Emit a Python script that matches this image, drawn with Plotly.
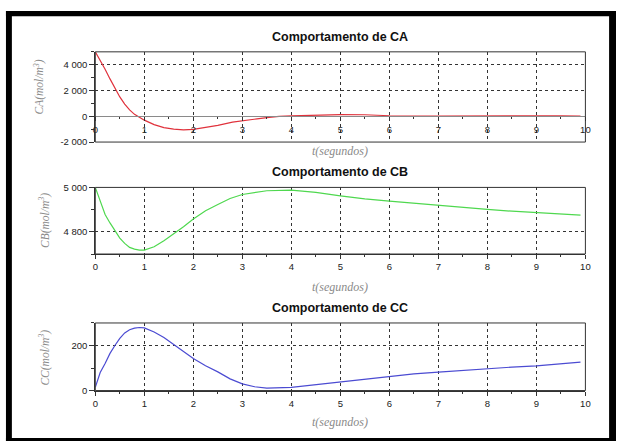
import plotly.graph_objects as go

W, H = 621, 446

# --- data ------------------------------------------------------------------
t_ca = [0, 0.1, 0.2, 0.3, 0.4, 0.5, 0.6, 0.7, 0.8, 0.9, 1.0, 1.2, 1.4, 1.6, 1.8,
        2.0, 2.2, 2.5, 2.8, 3.0, 3.3, 3.5, 3.75, 4.0, 4.4, 4.6, 5.0, 5.5, 5.7,
        6.0, 7.0, 8.0, 8.3, 9.0, 9.5, 9.9]
ca = [5000, 4350, 3650, 2900, 2150, 1500, 950, 500, 150, -100, -300, -650, -880,
      -1000, -1050, -1020, -900, -700, -450, -330, -200, -110, 0, 30, 80, 120,
      130, 120, 70, 40, 20, 0, 20, 30, 30, 20]

t_cb = [0, 0.1, 0.2, 0.3, 0.4, 0.5, 0.6, 0.7, 0.8, 0.9, 1.0, 1.2, 1.4, 1.6, 1.8,
        2.0, 2.25, 2.5, 2.75, 3.0, 3.5, 4.0, 4.5, 5.0, 5.5, 6.0, 6.5, 7.0, 7.5,
        8.0, 8.5, 9.0, 9.5, 9.9]
cb = [5000, 4935, 4878, 4840, 4805, 4772, 4748, 4730, 4722, 4718, 4718, 4733,
      4760, 4790, 4823, 4858, 4895, 4923, 4950, 4968, 4985, 4988, 4978, 4962,
      4948, 4938, 4928, 4920, 4910, 4901, 4893, 4886, 4879, 4875]

t_cc = [0, 0.1, 0.2, 0.3, 0.4, 0.5, 0.6, 0.7, 0.8, 0.9, 1.0, 1.2, 1.4, 1.6, 1.8,
        2.0, 2.25, 2.5, 2.75, 3.0, 3.25, 3.5, 4.0, 4.5, 5.0, 5.5, 6.0, 6.5, 7.0,
        7.5, 8.0, 8.5, 9.0, 9.5, 9.9]
cc = [15, 80, 120, 165, 200, 232, 256, 270, 277, 280, 278, 260, 236, 205, 172,
      142, 110, 83, 52, 30, 17, 11, 14, 26, 40, 51, 63, 74, 82, 90, 97, 104,
      110, 118, 126]

x_ticks = list(range(0, 11))
ca_ticks = [-2000, 0, 2000, 4000]
ca_labels = ["-2 000", "0", "2 000", "4 000"]
cb_ticks = [4800, 5000]
cb_labels = ["4 800", "5 000"]
cc_ticks = [0, 200]
cc_labels = ["0", "200"]

RED = "#e0323c"
GREEN = "#4fd84f"
BLUE = "#4b4bd2"
GRID = "#333333"
DASH = "3px,3px"
TICK_FONT = dict(family="Liberation Sans, Arial", size=9.5, color="#222222")


def px(x):
    return x / W


def py(y):
    return 1 - y / H


X_DOM = [px(93.5), px(590)]
DOMS = {
    "ca": [py(139.5), py(47)],
    "cb": [py(254.3), py(186)],
    "cc": [py(394.3), py(325)],
}
RANGES = {"ca": [-2000, 5000], "cb": [4700, 5000], "cc": [0, 300]}

fig = go.Figure()
fig.add_trace(go.Scatter(x=t_ca, y=ca, mode="lines", line=dict(color=RED, width=1.2),
                         xaxis="x", yaxis="y", showlegend=False))
fig.add_trace(go.Scatter(x=t_cb, y=cb, mode="lines", line=dict(color=GREEN, width=1.2),
                         xaxis="x2", yaxis="y2", showlegend=False))
fig.add_trace(go.Scatter(x=t_cc, y=cc, mode="lines", line=dict(color=BLUE, width=1.2),
                         xaxis="x3", yaxis="y3", showlegend=False))


def xaxis_common():
    return dict(
        domain=X_DOM, range=[0, 10], tickvals=x_ticks, tickfont=TICK_FONT,
        showgrid=True, gridcolor=GRID, griddash=DASH, gridwidth=1,
        showline=True, linecolor="#333333", linewidth=1,
        ticks="outside", ticklen=4, tickcolor="#333333",
        minor=dict(dtick=0.5, tick0=0, ticks="outside", ticklen=2, tickcolor="#333333", showgrid=False),
        zeroline=False, fixedrange=True,
    )


def yaxis_common(key, vals, labels):
    return dict(
        domain=DOMS[key], range=RANGES[key], tickvals=vals, ticktext=labels,
        tickfont=TICK_FONT, showgrid=True, gridcolor=GRID, griddash=DASH,
        showline=True, linecolor="#333333", linewidth=1,
        ticks="outside", ticklen=5, tickcolor="#333333",
        minor=dict(dtick=100 if key != "ca" else 1000, ticks="outside", ticklen=3,
                   tickcolor="#333333", showgrid=False),
        zeroline=False, fixedrange=True,
    )


# top panel: x axis sits on y = 0 (Scilab style)
ca_lo, ca_hi = RANGES["ca"]
zero_pos = DOMS["ca"][0] + (0 - ca_lo) / (ca_hi - ca_lo) * (DOMS["ca"][1] - DOMS["ca"][0])
xa1 = xaxis_common()
xa1.update(anchor="free", position=zero_pos, linecolor="#8a8a8a")

xa2 = xaxis_common()
xa2.update(anchor="y2")
xa3 = xaxis_common()
xa3.update(anchor="y3")

ya1 = yaxis_common("ca", ca_ticks, ca_labels)
ya1.update(anchor="x")
ya2 = yaxis_common("cb", cb_ticks, cb_labels)
ya2.update(anchor="x2")
ya3 = yaxis_common("cc", cc_ticks, cc_labels)
ya3.update(anchor="x3")

# box around each panel
shapes = []
for xr, yr in [("x", "y"), ("x2", "y2"), ("x3", "y3")]:
    shapes.append(dict(type="rect", xref=f"{xr} domain", yref=f"{yr} domain",
                       x0=0, x1=1, y0=0, y1=1, line=dict(color="#333333", width=1)))

# thick black frame of the picture
for x0, x1, y0, y1 in [(3, 9, 5, 446), (3, 621, 5, 10.5), (614, 621, 5, 446), (3, 621, 443, 446)]:
    shapes.append(dict(type="rect", xref="paper", yref="paper",
                       x0=px(x0), x1=px(x1), y0=py(y1), y1=py(y0),
                       fillcolor="black", line=dict(width=0), layer="above"))

TITLE_FONT = dict(family="Liberation Sans, Arial", size=12.5, color="#111111")
XT_FONT = dict(family="Liberation Serif, DejaVu Serif", size=12, color="#8a8a8a")
YT_FONT = dict(family="Liberation Serif, DejaVu Serif", size=11.5, color="#8a8a8a")

annotations = []
for txt, y in [("Comportamento de CA", 31.5), ("Comportamento de CB", 170),
               ("Comportamento de CC", 309.5)]:
    annotations.append(dict(text=f"<b>{txt}</b>", x=px(341), y=py(y), xref="paper", yref="paper",
                            showarrow=False, font=TITLE_FONT, xanchor="center", yanchor="middle"))
for y in [148.3, 288.5, 426.7]:
    annotations.append(dict(text="<i>t(segundos)</i>", x=px(341), y=py(y), xref="paper", yref="paper",
                            showarrow=False, font=XT_FONT, xanchor="center", yanchor="middle"))
for txt, x, y in [("CA(mol/m<sup>3</sup>)", 37, 83), ("CB(mol/m<sup>3</sup>)", 42, 220),
                  ("CC(mol/m<sup>3</sup>)", 42, 360)]:
    annotations.append(dict(text=f"<i>{txt}</i>", x=px(x), y=py(y), xref="paper", yref="paper",
                            showarrow=False, font=YT_FONT, textangle=-90,
                            xanchor="center", yanchor="middle"))

fig.update_layout(
    width=W, height=H,
    margin=dict(l=0, r=0, t=0, b=0),
    paper_bgcolor="white", plot_bgcolor="white",
    xaxis=xa1, yaxis=ya1, xaxis2=xa2, yaxis2=ya2, xaxis3=xa3, yaxis3=ya3,
    shapes=shapes, annotations=annotations,
    showlegend=False,
)

# drop the browser's default body margin so the 621x446 figure fills the window
fig.write_html(
    "out.html",
    config={"displayModeBar": False},
    post_script="document.body.style.margin='0';document.body.style.overflow='hidden';",
)
